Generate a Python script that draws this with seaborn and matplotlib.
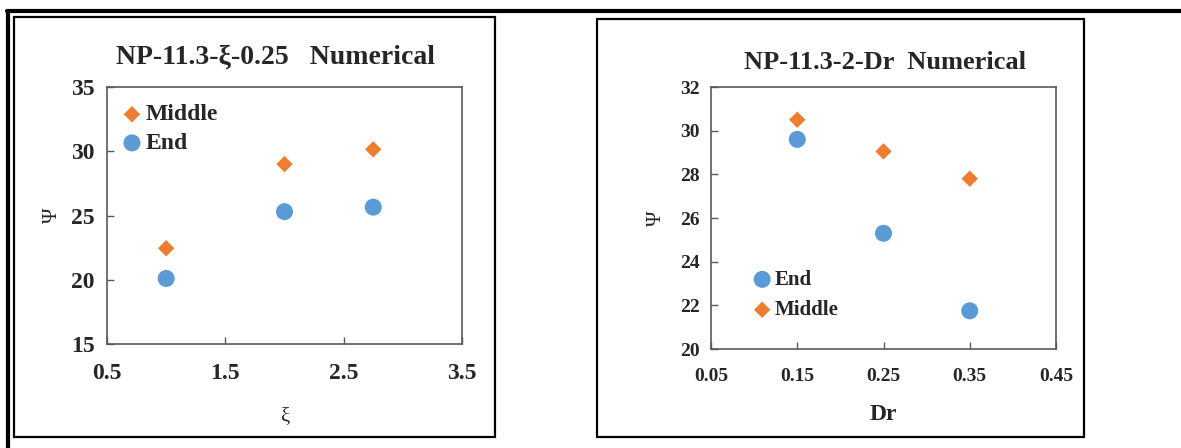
import pandas as pd
import matplotlib
matplotlib.use("Agg")
import matplotlib.pyplot as plt
from matplotlib.patches import Rectangle
from matplotlib.lines import Line2D
import seaborn as sns

# left panel: Psi vs xi
xi = [1.0, 2.0, 2.75]
xi_middle = [22.45, 29.0, 30.15]
xi_end = [20.1, 25.3, 25.65]

# right panel: Psi vs Dr
dr = [0.15, 0.25, 0.35]
dr_middle = [30.5, 29.05, 27.8]
dr_end = [29.6, 25.3, 21.75]

ORANGE = "#ED7D31"
BLUE = "#5B9BD5"

sns.set_theme(style="white")
plt.rcParams["font.family"] = ["Liberation Serif", "DejaVu Serif"]

W, H = 1181, 448
fig = plt.figure(figsize=(W / 100, H / 100), dpi=100)


def fx(px):
    return px / W


def fy(py):
    return 1 - py / H


# outer frame (top and left edges) and panel boxes
fig.add_artist(Line2D([fx(7), 1], [fy(11), fy(11)], color="black", lw=3))
fig.add_artist(Line2D([fx(8), fx(8)], [fy(11), 0], color="black", lw=3))
for x0, y0, x1, y1 in [(14, 17, 495, 437), (597, 19, 1084, 437)]:
    fig.add_artist(Rectangle((fx(x0), fy(y1)), fx(x1 - x0), fy(y0) - fy(y1),
                             fill=False, edgecolor="black", lw=1.6))


def style_axes(ax, lab_size):
    for sp in ax.spines.values():
        sp.set_color("#595959")
        sp.set_linewidth(1.2)
    ax.tick_params(direction="in", length=5, width=1, color="#595959",
                   labelsize=lab_size, bottom=True, left=True)
    for lbl in ax.get_xticklabels() + ax.get_yticklabels():
        lbl.set_fontweight("bold")


# ---- left panel
ax1 = fig.add_axes([fx(107), fy(344), fx(462 - 107), fy(87) - fy(344)])
df1 = pd.DataFrame({"x": xi, "middle": xi_middle, "end": xi_end})
sns.scatterplot(data=df1, x="x", y="middle", ax=ax1, marker="D", s=70,
                color=ORANGE, edgecolor="none", label="Middle")
sns.scatterplot(data=df1, x="x", y="end", ax=ax1, marker="o", s=150,
                color=BLUE, edgecolor="none", label="End")
ax1.set_xlim(0.5, 3.5)
ax1.set_ylim(15, 35)
ax1.set_xticks([0.5, 1.5, 2.5, 3.5])
ax1.set_yticks([15, 20, 25, 30, 35])
ax1.set_xticklabels(["0.5", "1.5", "2.5", "3.5"])
ax1.set_yticklabels(["15", "20", "25", "30", "35"])
style_axes(ax1, 17)
ax1.tick_params(axis="x", pad=14)
ax1.tick_params(axis="y", pad=9)
ax1.set_xlabel("ξ", fontsize=15, labelpad=16)
ax1.set_ylabel("Ψ", fontsize=15, labelpad=6)
ax1.legend(loc="upper left", frameon=False, handlelength=0.6, handletextpad=0.3,
           borderaxespad=0.1, labelspacing=0.3, prop={"weight": "bold", "size": 17},
           bbox_to_anchor=(0.017, 0.98))
fig.text(fx(276), fy(57), "NP-11.3-ξ-0.25   Numerical", ha="center", va="center",
         fontsize=20, fontweight="bold")

# ---- right panel
ax2 = fig.add_axes([fx(711), fy(349), fx(1056 - 711), fy(87) - fy(349)])
df2 = pd.DataFrame({"x": dr, "middle": dr_middle, "end": dr_end})
sns.scatterplot(data=df2, x="x", y="end", ax=ax2, marker="o", s=150,
                color=BLUE, edgecolor="none", label="End")
sns.scatterplot(data=df2, x="x", y="middle", ax=ax2, marker="D", s=70,
                color=ORANGE, edgecolor="none", label="Middle")
ax2.set_xlim(0.05, 0.45)
ax2.set_ylim(20, 32)
ax2.set_xticks([0.05, 0.15, 0.25, 0.35, 0.45])
ax2.set_yticks([20, 22, 24, 26, 28, 30, 32])
ax2.set_xticklabels(["0.05", "0.15", "0.25", "0.35", "0.45"])
ax2.set_yticklabels(["20", "22", "24", "26", "28", "30", "32"])
style_axes(ax2, 14)
ax2.tick_params(axis="x", pad=14)
ax2.tick_params(axis="y", pad=8)
ax2.set_xlabel("Dr", fontsize=17, fontweight="bold", labelpad=13)
ax2.set_ylabel("Ψ", fontsize=15, labelpad=10)
ax2.legend(loc="lower left", frameon=False, handlelength=0.6, handletextpad=0.3,
           borderaxespad=0.1, labelspacing=0.5, prop={"weight": "bold", "size": 15},
           bbox_to_anchor=(0.1, 0.07))
fig.text(fx(885), fy(62), "NP-11.3-2-Dr  Numerical", ha="center", va="center",
         fontsize=19, fontweight="bold")

fig.savefig("out.png", dpi=100)
